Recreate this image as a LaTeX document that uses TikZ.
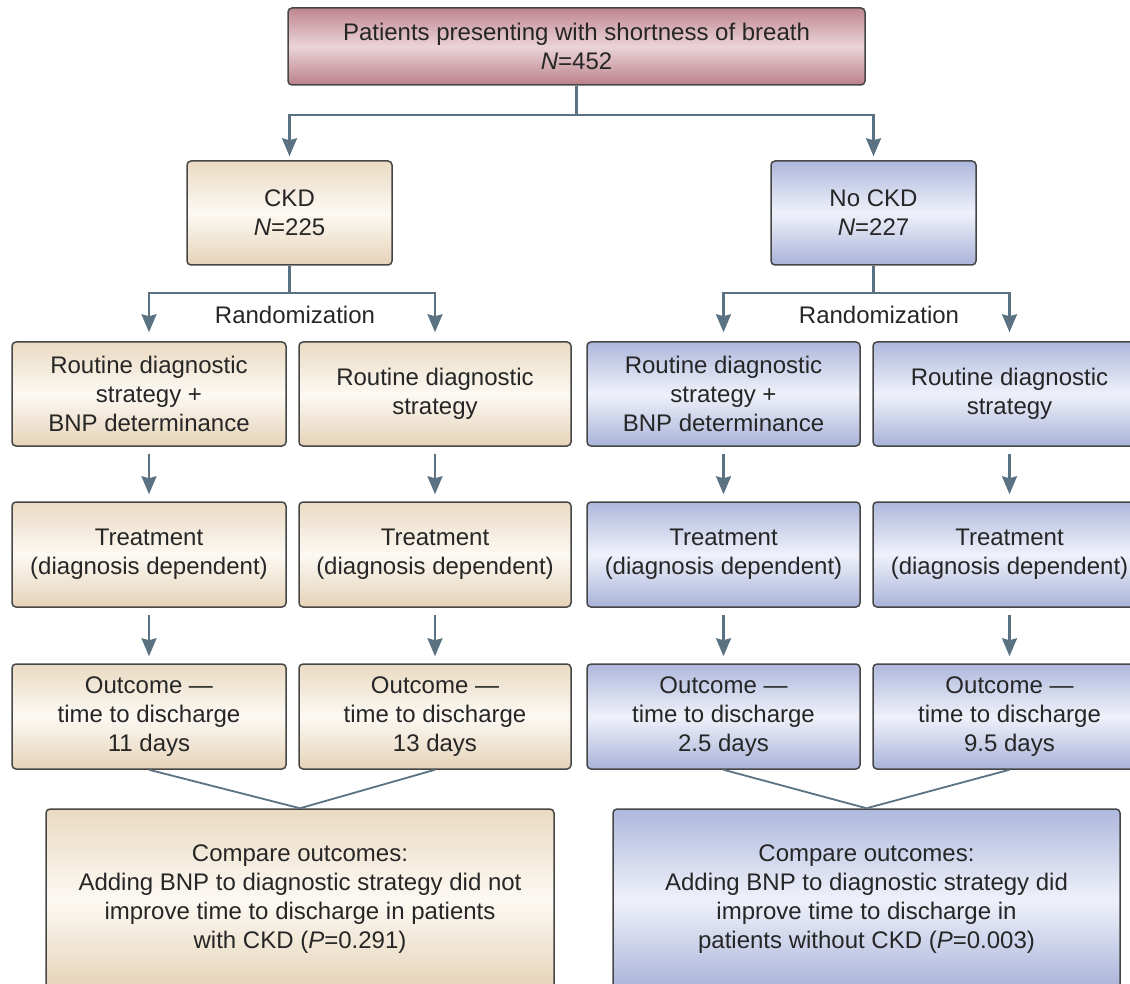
\documentclass[tikz,border=0pt]{standalone}
\usepackage{fontspec}
\setmainfont{Liberation Sans}
\usetikzlibrary{arrows.meta}
\definecolor{pinkT}{HTML}{BF868F}
\definecolor{pinkM}{HTML}{EBD4D9}
\definecolor{pinkB}{HTML}{BA8089}
\definecolor{tanT}{HTML}{EADAC2}
\definecolor{tanM}{HTML}{FCF9F3}
\definecolor{tanB}{HTML}{E6D3B8}
\definecolor{bluT}{HTML}{AEB8DC}
\definecolor{bluM}{HTML}{EFF1FA}
\definecolor{bluB}{HTML}{A9B3D9}
\definecolor{edge}{HTML}{464646}
\definecolor{conncol}{HTML}{5A7282}
\definecolor{txt}{HTML}{262626}
\begin{document}
\begin{tikzpicture}[x=1pt,y=-1pt,
  box/.style={draw=edge, line width=1.5pt, rounded corners=4pt, align=center,
    inner sep=0pt, text=txt, font=\fontsize{24}{29}\selectfont},
  pinkbox/.style={box, top color=pinkT, bottom color=pinkB, middle color=pinkM},
  tanbox/.style={box, top color=tanT, bottom color=tanB, middle color=tanM},
  blubox/.style={box, top color=bluT, bottom color=bluB, middle color=bluM},
  conn/.style={draw=conncol, line width=2.2pt},
  arr/.style={conn, -{Stealth[width=15pt,length=18pt,inset=2pt]}},
  lbl/.style={text=txt, font=\fontsize{24}{29}\selectfont, inner sep=0pt}
]
\useasboundingbox (0,0) rectangle (1130,984);
\clip (0,0) rectangle (1130,984);

% top
\node[pinkbox, minimum width=577pt, minimum height=77pt] (top) at (576.5,46.5)
  {Patients presenting with shortness of breath\\\textit{N}=452};

% groups
\node[tanbox, minimum width=205pt, minimum height=104pt] (ckd) at (289.5,213)
  {CKD\\\textit{N}=225};
\node[blubox, minimum width=205pt, minimum height=104pt] (nockd) at (873.5,213)
  {No CKD\\\textit{N}=227};

% row 1
\node[tanbox, minimum width=274pt, minimum height=104pt] (r1a) at (149,394)
  {Routine diagnostic\\strategy +\\BNP determinance};
\node[tanbox, minimum width=272pt, minimum height=104pt] (r1b) at (435,394)
  {Routine diagnostic\\strategy};
\node[blubox, minimum width=273pt, minimum height=104pt] (r1c) at (723.5,394)
  {Routine diagnostic\\strategy +\\BNP determinance};
\node[blubox, minimum width=273pt, minimum height=104pt] (r1d) at (1009.5,394)
  {Routine diagnostic\\strategy};

% row 2
\node[tanbox, minimum width=274pt, minimum height=105pt] (r2a) at (149,554.5)
  {Treatment\\(diagnosis dependent)};
\node[tanbox, minimum width=272pt, minimum height=105pt] (r2b) at (435,554.5)
  {Treatment\\(diagnosis dependent)};
\node[blubox, minimum width=273pt, minimum height=105pt] (r2c) at (723.5,554.5)
  {Treatment\\(diagnosis dependent)};
\node[blubox, minimum width=273pt, minimum height=105pt] (r2d) at (1009.5,554.5)
  {Treatment\\(diagnosis dependent)};

% row 3
\node[tanbox, minimum width=274pt, minimum height=105pt] (r3a) at (149,716.5)
  {Outcome —\\time to discharge\\11 days};
\node[tanbox, minimum width=272pt, minimum height=105pt] (r3b) at (435,716.5)
  {Outcome —\\time to discharge\\13 days};
\node[blubox, minimum width=273pt, minimum height=105pt] (r3c) at (723.5,716.5)
  {Outcome —\\time to discharge\\2.5 days};
\node[blubox, minimum width=273pt, minimum height=105pt] (r3d) at (1009.5,716.5)
  {Outcome —\\time to discharge\\9.5 days};

% compare
\node[tanbox, minimum width=508pt, minimum height=181pt] (cmpl) at (300,899.5)
  {Compare outcomes:\\Adding BNP to diagnostic strategy did not\\improve time to discharge in patients\\with CKD (\textit{P}=0.291)};
\node[blubox, minimum width=507pt, minimum height=181pt] (cmpr) at (866.5,899.5)
  {Compare outcomes:\\Adding BNP to diagnostic strategy did\\improve time to discharge in\\patients without CKD (\textit{P}=0.003)};

% labels
\node[lbl] (rand1) at (295,315) {Randomization};
\node[lbl] (rand2) at (879,315) {Randomization};

% connectors top
\coordinate (split0) at ([yshift=-29pt]top.south);
\draw[arr, shorten >=4pt] (top.south) -- (split0) -| (ckd.north);
\draw[arr, shorten >=4pt] (split0) -| (nockd.north);

% randomization
\coordinate (splitl) at ([yshift=-27pt]ckd.south);
\draw[arr, shorten >=9pt] (ckd.south) -- (splitl) -| (r1a.north);
\draw[arr, shorten >=9pt] (splitl) -| (r1b.north);
\coordinate (splitr) at ([yshift=-27pt]nockd.south);
\draw[arr, shorten >=9pt] (nockd.south) -- (splitr) -| (r1c.north);
\draw[arr, shorten >=9pt] (splitr) -| (r1d.north);

% vertical arrows
\foreach \c in {a,b,c,d}{
  \draw[arr, shorten <=7pt, shorten >=7pt] (r1\c.south) -- (r2\c.north);
  \draw[arr, shorten <=7pt, shorten >=7pt] (r2\c.south) -- (r3\c.north);
}

% merge lines
\draw[conn, line width=1.8pt] (r3a.south) -- (cmpl.north);
\draw[conn, line width=1.8pt] (r3b.south) -- (cmpl.north);
\draw[conn, line width=1.8pt] (r3c.south) -- (cmpr.north);
\draw[conn, line width=1.8pt] (r3d.south) -- (cmpr.north);
\end{tikzpicture}
\end{document}
